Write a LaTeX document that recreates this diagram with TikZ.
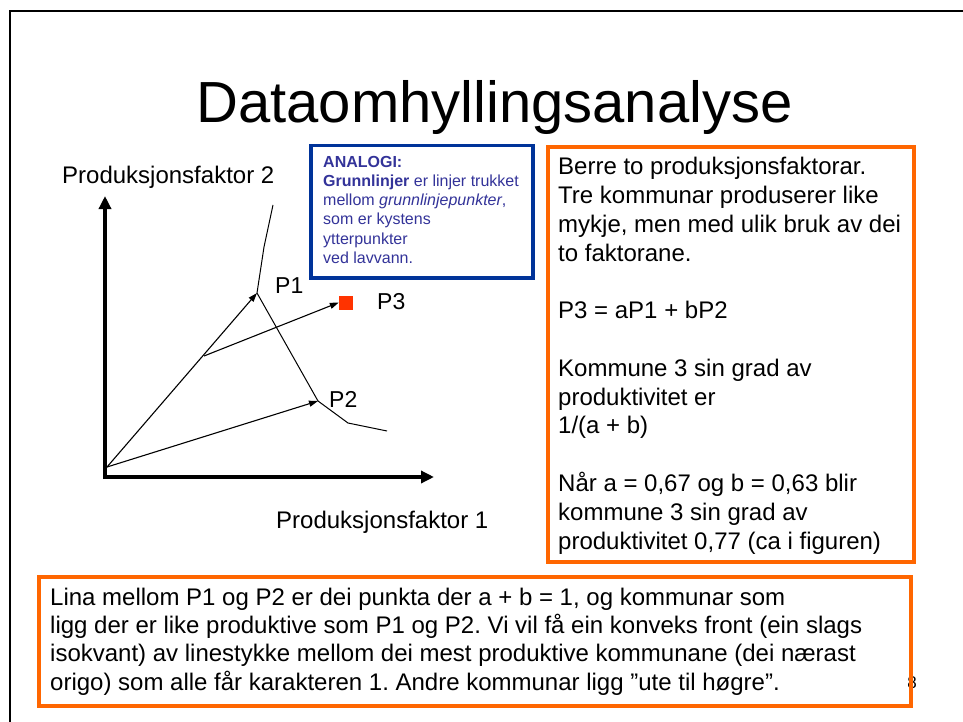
\documentclass[tikz,border=0pt]{standalone}
\usepackage{fontspec}
\setmainfont{Liberation Sans}
\usetikzlibrary{arrows.meta}
\frenchspacing
\definecolor{orangeb}{RGB}{255,102,0}
\definecolor{blueb}{RGB}{0,51,153}
\definecolor{bluetxt}{RGB}{51,51,153}
\definecolor{redsq}{RGB}{255,51,0}
\tikzset{
  obox/.style={draw=orangeb, line width=4pt},
  bbox/.style={draw=blueb, line width=3.5pt},
  txt/.style={inner sep=0pt, anchor=base west, align=left, font=\fontsize{24}{28.8}\selectfont},
  smalltxt/.style={inner sep=0pt, anchor=base west, align=left, text=bluetxt, font=\fontsize{16}{19.3}\selectfont},
  axis/.style={line width=3.5pt, -{Triangle[length=13pt,width=12pt]}},
  vec/.style={line width=1.1pt, -{Triangle[length=9pt,width=6pt]}},
  iso/.style={line width=1pt},
  lbl/.style={inner sep=0pt, anchor=base west, font=\fontsize{23}{27}\selectfont}
}
\begin{document}
\begin{tikzpicture}[x=1pt,y=-1pt]
\useasboundingbox (0,0) rectangle (963,722);
\fill[white] (0,0) rectangle (963,722);
% outer frame
\draw[line width=2pt] (10,722) -- (10,11) -- (963,11);
% title
\node[inner sep=0pt, anchor=base, font=\fontsize{58}{60}\selectfont] (title) at (494.5,123) {Dataomhyllingsanalyse};
% axis labels
\node[txt] (fy) at (62,184) {Produksjonsfaktor 2};
\node[txt] (fx) at (276,528) {Produksjonsfaktor 1};
% axes
\coordinate (ayt) at (105,196);
\coordinate (axt) at (434,477);
\draw[axis] (105,479) -- (ayt);
\draw[axis] (103,477) -- (axt);
% points
\coordinate (O) at (107,467);
\coordinate (P1) at (257,293);
\coordinate (P2) at (318,401);
\coordinate (S) at (204,356);
\coordinate (I0) at (273,205);
\coordinate (I1) at (264,247);
\coordinate (I4) at (348,423);
\coordinate (I5) at (387,431);
\node[fill=redsq, inner sep=0pt, minimum size=14pt] (P3) at (346,302.5) {};
% isoquant
\draw[iso] (I0) -- (I1) -- (P1) -- (P2) -- (I4) -- (I5);
% vectors
\draw[vec] (O) -- (P1);
\draw[vec] (O) -- (P2);
\draw[vec] (S) -- (P3.west);
% point labels
\node[lbl] (l1) at (275,293) {P1};
\node[lbl] (l2) at (329,407) {P2};
\node[lbl] (l3) at (377,309) {P3};
% blue analogy box
\node[bbox, minimum width=222pt, minimum height=132pt, anchor=north west, inner sep=0pt] (blue) at (309,144) {};
\node[smalltxt] (bluetext) at (323,263.5) {\textbf{ANALOGI:}\\ \textbf{Grunnlinjer} er linjer trukket\\ mellom \textit{grunnlinjepunkter},\\ som er kystens\\ ytterpunkter\\ ved lavvann.};
% right orange box
\node[obox, minimum width=366pt, minimum height=415pt, anchor=north west, inner sep=0pt] (right) at (546,145) {};
\node[txt] (righttext) at (558,549) {Berre to produksjonsfaktorar.\\ Tre kommunar produserer like\\ mykje, men med ulik bruk av dei\\ to faktorane.\\ ~\\ P3 = aP1 + bP2\\ ~\\ Kommune 3 sin grad av\\ produktivitet er\\ 1/(a + b)\\ ~\\ Når a = 0,67 og b = 0,63 blir\\ kommune 3 sin grad av\\ produktivitet 0,77 (ca i figuren)};
% page number
\node[inner sep=0pt, font=\fontsize{17}{20}\selectfont] (page) at (912,683) {8};
% bottom orange box
\node[obox, minimum width=872pt, minimum height=129pt, anchor=north west, inner sep=0pt] (bottom) at (37,575) {};
\node[txt, font=\fontsize{24}{28.3}\selectfont] (bottomtext) at (50,690) {Lina mellom P1 og P2 er dei punkta der a + b = 1, og kommunar som\\ ligg der er like produktive som P1 og P2. Vi vil få ein konveks front (ein slags\\ isokvant) av linestykke mellom dei mest produktive kommunane (dei nærast\\ origo) som alle får karakteren 1. Andre kommunar ligg ”ute til høgre”.};
\end{tikzpicture}
\end{document}
